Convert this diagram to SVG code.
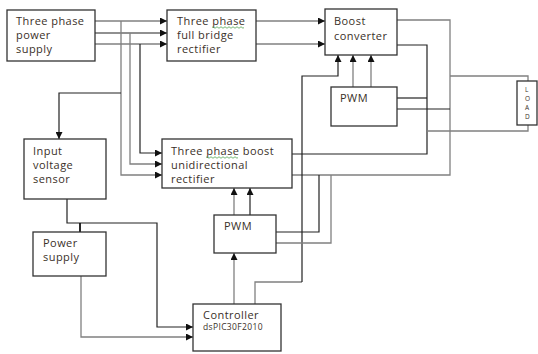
<svg xmlns="http://www.w3.org/2000/svg" width="538" height="354" viewBox="0 0 538 354">
<style>
.box{fill:#fff;stroke:#333;stroke-width:1.3}
.t{font-family:"Open Sans","DejaVu Sans",sans-serif;font-size:11px;letter-spacing:0.45px;fill:#3a3028}
.s{font-family:"Open Sans","DejaVu Sans",sans-serif;font-size:8.5px;letter-spacing:0.35px;fill:#3a3028}
.l{font-family:"Open Sans","DejaVu Sans",sans-serif;font-size:6.5px;fill:#3a3028}
.c{fill:none;stroke:#222;stroke-width:1.2}
.g{fill:none;stroke:#808080;stroke-width:1.3}
.a{marker-end:url(#ah)}
.sq{fill:none;stroke:#3c9a3c;stroke-width:0.7}
</style>
<defs>
<marker id="ah" markerUnits="userSpaceOnUse" markerWidth="8" markerHeight="7" refX="7" refY="3.5" orient="auto">
<path d="M0,0 L7,3.5 L0,7 z" fill="#111"/>
</marker>
</defs>
<rect width="538" height="354" fill="#fff"/>
<g id="connectors">
<path class="g a" d="M95,21 H167"/>
<path class="c a" d="M95,33 H167"/>
<path class="g a" d="M95,44 H167"/>
<path class="g a" d="M121,21 V175 H162"/>
<path class="g a" d="M130,33 V164 H162"/>
<path class="c a" d="M140,44 V153 H162"/>
<path class="c a" d="M121,93 H59 V139"/>
<path class="g a" d="M256,21 H325"/>
<path class="g a" d="M256,44 H325"/>
<path class="g" d="M397,20 H450 V175 H292"/>
<path class="g" d="M450,76 H528 V81"/>
<path class="c" d="M397,109 H450"/>
<path class="c" d="M397,45 H427 V154 H292"/>
<path class="c" d="M397,98 H427"/>
<path class="g" d="M427,131 H528 V125"/>
<path class="g a" d="M353,87 V55"/>
<path class="g a" d="M371,87 V55"/>
<path class="g" d="M255,304 V282 H302"/>
<path class="c a" d="M302,282 V76 H338 V55"/>
<path class="g a" d="M234,304 V253"/>
<path class="g a" d="M234,215 V188"/>
<path class="c a" d="M250,215 V188"/>
<path class="c" d="M276,232 H319 V175"/>
<path class="g" d="M276,243 H331 V175"/>
<path class="c a" d="M67,199 V223 H157 V327 H193"/>
<path class="g a" d="M81,276 V337 H193"/>
<path d="M80,223 V237" stroke="#111" stroke-width="1.8"/>
</g>
<g id="power-supply-3ph">
<rect class="box" x="7" y="10" width="88" height="51"/>
<text class="t" x="16" y="25">Three phase</text>
<text class="t" x="16" y="39">power</text>
<text class="t" x="16" y="53">supply</text>
</g>
<g id="full-bridge">
<rect class="box" x="167" y="10" width="89" height="51"/>
<text class="t" x="177" y="25">Three phase</text>
<text class="t" x="177" y="39">full bridge</text>
<text class="t" x="177" y="53">rectifier</text>
<path class="sq" d="M212,27.5 q1,-1.5 2,0 t2,0 t2,0 t2,0 t2,0 t2,0 t2,0 t2,0 t2,0 t2,0 t2,0 t2,0 t2,0 t2,0 t2,0 t2,0"/>
</g>
<g id="boost-converter">
<rect class="box" x="325" y="9" width="72" height="46"/>
<text class="t" x="334" y="25">Boost</text>
<text class="t" x="334" y="40">converter</text>
</g>
<g id="pwm-upper">
<rect class="box" x="331" y="87" width="66" height="39"/>
<text class="t" x="340" y="102">PWM</text>
</g>
<g id="load">
<rect class="box" x="517" y="81" width="20" height="44"/>
<text class="l" x="525" y="92">L</text>
<text class="l" x="525" y="101">O</text>
<text class="l" x="525" y="110">A</text>
<text class="l" x="525" y="119">D</text>
</g>
<g id="input-voltage-sensor">
<rect class="box" x="24" y="139" width="82" height="60"/>
<text class="t" x="33" y="155">Input</text>
<text class="t" x="33" y="169">voltage</text>
<text class="t" x="33" y="183">sensor</text>
</g>
<g id="boost-rectifier">
<rect class="box" x="162" y="139" width="130" height="49"/>
<text class="t" x="171" y="155">Three phase boost</text>
<text class="t" x="171" y="169">unidirectional</text>
<text class="t" x="171" y="183">rectifier</text>
<path class="sq" d="M206,157.5 q1,-1.5 2,0 t2,0 t2,0 t2,0 t2,0 t2,0 t2,0 t2,0 t2,0 t2,0 t2,0 t2,0 t2,0 t2,0 t2,0 t2,0"/>
</g>
<g id="pwm-lower">
<rect class="box" x="214" y="215" width="62" height="38"/>
<text class="t" x="224" y="230">PWM</text>
</g>
<g id="power-supply">
<rect class="box" x="33" y="232" width="73" height="44"/>
<text class="t" x="43" y="247">Power</text>
<text class="t" x="43" y="261">supply</text>
</g>
<g id="controller">
<rect class="box" x="193" y="304" width="88" height="47"/>
<text class="t" x="203" y="319">Controller</text>
<text class="s" x="203" y="330">dsPIC30F2010</text>
</g>
</svg>
